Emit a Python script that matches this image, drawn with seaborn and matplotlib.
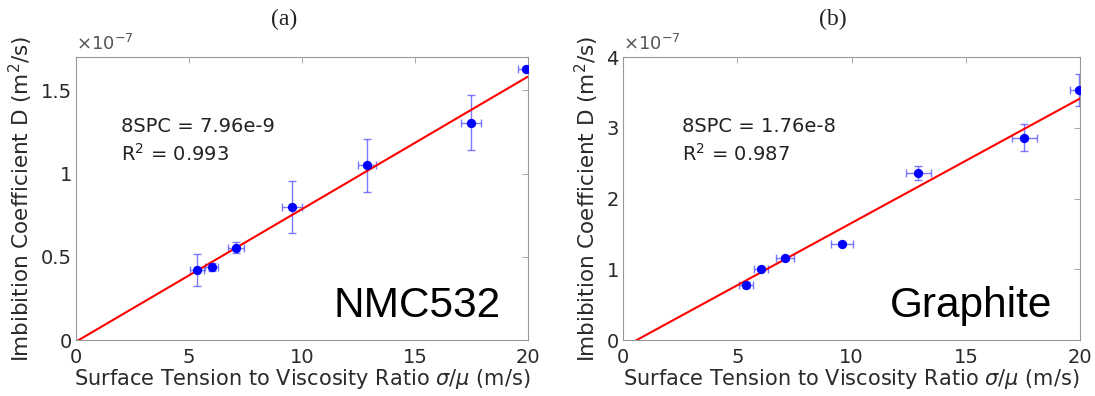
import numpy as np
import pandas as pd
import seaborn as sns
import matplotlib
matplotlib.use("Agg")
import matplotlib.pyplot as plt
from matplotlib.ticker import FuncFormatter

# ---- data (panel a: NMC532) ----
x_a = [5.35, 6.0, 7.1, 9.55, 12.9, 17.5, 19.9]
y_a = [0.42e-7, 0.44e-7, 0.555e-7, 0.80e-7, 1.05e-7, 1.305e-7, 1.63e-7]
xerr_a = [0.3, 0.3, 0.35, 0.45, 0.4, 0.45, 0.35]
yerr_a = [0.095e-7, 0.025e-7, 0.035e-7, 0.155e-7, 0.16e-7, 0.165e-7, 0.01e-7]
slope_a = 7.96e-9
intercept_a = -0.1e-8

# ---- data (panel b: Graphite) ----
x_b = [5.38, 6.05, 7.1, 9.58, 12.92, 17.56, 19.96]
y_b = [0.78e-7, 1.01e-7, 1.155e-7, 1.36e-7, 2.355e-7, 2.86e-7, 3.53e-7]
xerr_b = [0.3, 0.3, 0.4, 0.5, 0.55, 0.55, 0.4]
yerr_b = [0.04e-7, 0.02e-7, 0.03e-7, 0.02e-7, 0.10e-7, 0.19e-7, 0.225e-7]
slope_b = 1.76e-8
intercept_b = -1.056e-8

panels = [
    dict(x=x_a, y=y_a, xe=xerr_a, ye=yerr_a, m=slope_a, c=intercept_a,
         ylim=1.7e-7, yticks=[0, 0.5e-7, 1e-7, 1.5e-7], title="(a)",
         s1="8SPC = 7.96e-9", s2="R$^2$ = 0.993", name="NMC532", tx=2.0),
    dict(x=x_b, y=y_b, xe=xerr_b, ye=yerr_b, m=slope_b, c=intercept_b,
         ylim=4e-7, yticks=[0, 1e-7, 2e-7, 3e-7, 4e-7], title="(b)",
         s1="8SPC = 1.76e-8", s2="R$^2$ = 0.987", name="Graphite", tx=2.6),
]

sns.set_style("white")
plt.rcParams['font.family'] = ['DejaVu Sans']
plt.rcParams['mathtext.fontset'] = 'dejavusans'

fig = plt.figure(figsize=(10.95, 3.96), dpi=100)
positions = [[0.0694, 0.1414, 0.4126, 0.7146], [0.569, 0.1414, 0.4174, 0.7146]]
grey = "#2a2a2a"
for pos, p in zip(positions, panels):
    ax = fig.add_axes(pos)
    df = pd.DataFrame({"x": p["x"], "y": p["y"]})
    ax.errorbar(p["x"], p["y"], xerr=p["xe"], yerr=p["ye"], fmt="none",
                ecolor=(0.3, 0.3, 1.0, 0.75), elinewidth=1.0, capsize=3, capthick=1.0, zorder=2)
    xl = np.array([0, 20])
    yl = p["m"] * xl + p["c"]
    sns.lineplot(x=xl, y=yl, ax=ax, color="red", linewidth=1.5, zorder=3)
    sns.scatterplot(data=df, x="x", y="y", ax=ax, color="blue", s=45,
                    edgecolor="blue", linewidth=0, zorder=4)
    ax.set_xlim(0, 20)
    ax.set_ylim(0, p["ylim"])
    ax.set_xticks([0, 5, 10, 15, 20])
    ax.set_yticks(p["yticks"])
    ax.yaxis.set_major_formatter(FuncFormatter(lambda v, _: "%g" % round(v / 1e-7, 3)))
    ax.tick_params(direction="in", top=True, right=True, length=4, width=0.6,
                   labelsize=14, colors="#999999", labelcolor=grey)
    ax.tick_params(axis="x", pad=6)
    ax.tick_params(axis="y", pad=3)
    for s in ax.spines.values():
        s.set_color("#999999")
        s.set_linewidth(0.8)
    ax.set_xlabel(r"Surface Tension to Viscosity Ratio $\mathit{\sigma/\mu}$ (m/s)",
                  fontsize=15, color=grey, labelpad=0)
    ax.set_ylabel("Imbibition Coefficient D (m$^2$/s)", fontsize=15.5, color=grey, labelpad=4)
    ax.text(0.46, 1.095, p["title"], transform=ax.transAxes, family="Liberation Serif",
            fontsize=17, color="#222222", ha="center", va="bottom")
    ax.text(0.0, 1.01, r"$\times$10$^{-7}$", transform=ax.transAxes, fontsize=13,
            color="#555555", ha="left", va="bottom")
    ax.text(p["tx"], 0.735 * p["ylim"], p["s1"], fontsize=14, color="#222222")
    ax.text(p["tx"], 0.635 * p["ylim"], p["s2"], fontsize=14, color="#222222")
    ax.text(0.94, 0.05, p["name"], transform=ax.transAxes, family="Liberation Sans",
            fontsize=30.5, color="black", ha="right", va="bottom")
    ax.set_facecolor("white")

fig.savefig("out.png", dpi=100, facecolor="white")
